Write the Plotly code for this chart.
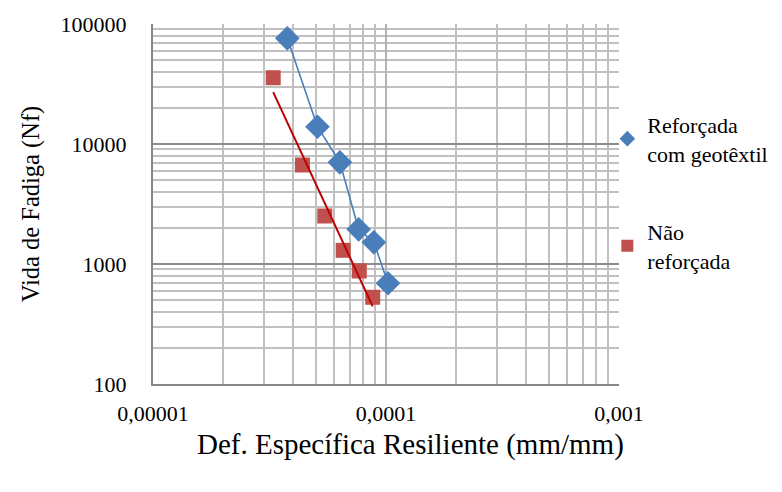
import numpy as np
import plotly.graph_objects as go

# Fatigue life vs. resilient strain
strain_reforcada = [3.77e-5, 5.08e-5, 6.34e-5, 7.63e-5, 8.87e-5, 1.02e-4]
nf_reforcada = [76000, 13930, 7040, 1946, 1517, 691]

strain_nao = [3.28e-5, 4.38e-5, 5.46e-5, 6.55e-5, 7.68e-5, 8.77e-5]
nf_nao = [35680, 6683, 2512, 1300, 875, 528]

x_tickvals = [1e-5, 1e-4, 1e-3]
x_ticktext = ["0,00001", "0,0001", "0,001"]
y_tickvals = [100, 1000, 10000, 100000]
y_ticktext = ["100", "1000", "10000", "100000"]

FONT = "Times New Roman, Liberation Serif, serif"
BLUE = "#4a7ebb"
RED_MARK = "#c0504d"
RED_LINE = "#c00000"

# power-law trendline for the unreinforced series (fit in log-log space)
slope, intercept = np.polyfit(np.log10(strain_nao), np.log10(nf_nao), 1)
trend_x = np.array([min(strain_nao), max(strain_nao)])
trend_y = 10 ** (intercept + slope * np.log10(trend_x))

fig = go.Figure()
# connecting line of the reinforced series (kept out of the legend)
fig.add_trace(go.Scatter(
    x=strain_reforcada, y=nf_reforcada, mode="lines",
    line=dict(color=BLUE, width=1.6),
    showlegend=False, hoverinfo="skip",
))
fig.add_trace(go.Scatter(
    x=strain_reforcada, y=nf_reforcada, mode="markers",
    name="Reforçada<br>com geotêxtil",
    marker=dict(symbol="diamond", size=19, color=BLUE),
    legendgroup="a",
))
fig.add_trace(go.Scatter(
    x=strain_nao, y=nf_nao, mode="markers",
    name="Não<br>reforçada",
    marker=dict(symbol="square", size=15, color=RED_MARK),
    legendgroup="b",
))
fig.add_trace(go.Scatter(
    x=trend_x, y=trend_y, mode="lines",
    line=dict(color=RED_LINE, width=2),
    showlegend=False, hoverinfo="skip",
))

axis_common = dict(
    type="log",
    showline=True, linecolor="#868686", linewidth=2,
    showgrid=True, gridwidth=2,
    minor=dict(dtick="D1", showgrid=True, gridcolor="#c0c0c0", gridwidth=1.6, ticks=""),
    ticks="", zeroline=False, mirror=False,
    tickfont=dict(family=FONT, size=22, color="#000000"),
)

fig.update_xaxes(
    **axis_common,
    gridcolor="#b4b4b4",
    range=[-5, -3],
    tickmode="array", tickvals=x_tickvals, ticktext=x_ticktext,
    ticklabelstandoff=9,
)
fig.update_yaxes(
    **axis_common,
    gridcolor="#8c8c8c",
    range=[2, 5],
    tickmode="array", tickvals=y_tickvals, ticktext=y_ticktext,
    ticklabelstandoff=20,
    title=dict(text="Vida de Fadiga (Nf)",
               font=dict(family=FONT, size=24.5, color="#000000"), standoff=14),
)

# x-axis title, centred on the chart area rather than the plot area
fig.add_annotation(
    text="Def. Específica Resiliente (mm/mm)",
    xref="paper", yref="paper", x=0.5536, y=-0.1694,
    xanchor="center", yanchor="middle", showarrow=False,
    font=dict(family=FONT, size=29, color="#000000"),
)

fig.update_layout(
    width=782, height=492,
    margin=dict(l=153, r=163, t=24, b=108, autoexpand=False),
    paper_bgcolor="white", plot_bgcolor="white",
    font=dict(family=FONT, color="#000000"),
    legend=dict(
        x=0.975, xanchor="left", y=0.779, yanchor="top",
        font=dict(family=FONT, size=22, color="#000000"),
        tracegroupgap=47, itemwidth=30, itemsizing="constant",
        bgcolor="rgba(0,0,0,0)",
    ),
    showlegend=True,
)

fig.write_html("out.html")
